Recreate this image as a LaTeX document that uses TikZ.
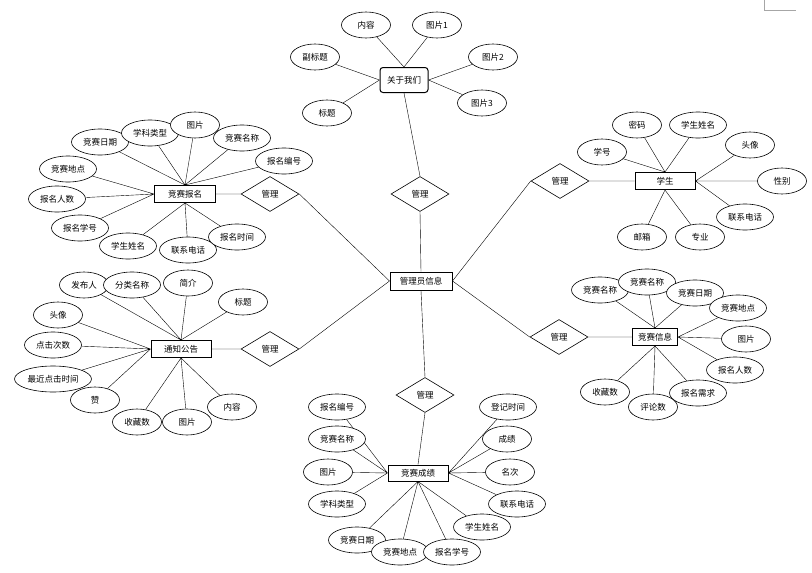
\documentclass[tikz,border=0pt]{standalone}
\usepackage{fontspec}
\newfontfamily\cjkfont{Noto Sans CJK SC}
\usepackage{tikz}
\usetikzlibrary{
  backgrounds,
  shapes.geometric
}
\tikzset{
  attr/.style={ellipse,draw,fill=white,minimum width=49pt,minimum height=26pt,inner sep=0pt},
  wattr/.style={attr,minimum width=57pt},
  ent/.style={rectangle,draw,fill=white,line width=1pt,minimum width=60pt,minimum height=17pt,inner sep=0pt},
  rel/.style={diamond,draw,fill=white,minimum width=58pt,minimum height=35pt,inner sep=0pt}
}

\begin{document}
\begin{tikzpicture}[x=1pt,y=-1pt,line width=0.6pt,font=\cjkfont\fontsize{8.5}{10}\selectfont]
	\useasboundingbox (0,0) rectangle (812,573);
	% page corner
	\draw[gray!70] (764,0) -- (764,10) -- (796,10);
	% centre
	\node[ent,minimum width=62pt,minimum height=18pt] (admin) at (421,281) {管理员信息};
	\node[rel] (rAbout) at (420,194) {管理};
	\node[rel] (rApply) at (270,194) {管理};
	\node[rel] (rNotice) at (270,349) {管理};
	\node[rel] (rStudent) at (560,181) {管理};
	\node[rel] (rContest) at (559,337) {管理};
	\node[rel] (rScore) at (425,395) {管理};
	% about us
	\node[ent,rounded corners=3pt,minimum width=48pt,minimum height=25pt] (about) at (404,80) {关于我们};
	\node[attr] (ab1) at (366,25) {内容};
	\node[attr] (ab2) at (437,25) {图片1};
	\node[attr] (ab3) at (315,57) {副标题};
	\node[attr] (ab4) at (493,57) {图片2};
	\node[attr] (ab5) at (482,103) {图片3};
	\node[attr] (ab6) at (327,113) {标题};
	% contest sign-up
	\node[ent,minimum width=61pt] (apply) at (185,194) {竞赛报名};
	\node[wattr] (ap1) at (100,142) {竞赛日期};
	\node[wattr] (ap2) at (150,133) {学科类型};
	\node[attr] (ap3) at (195,125) {图片};
	\node[wattr] (ap4) at (242,138) {竞赛名称};
	\node[wattr] (ap5) at (284,161) {报名编号};
	\node[wattr] (ap6) at (68,169) {竞赛地点};
	\node[wattr] (ap7) at (57,199) {报名人数};
	\node[wattr] (ap8) at (80,228) {报名学号};
	\node[wattr] (ap9) at (128,246) {学生姓名};
	\node[wattr] (ap10) at (188,250) {联系电话};
	\node[wattr] (ap11) at (237,237) {报名时间};
	% student
	\node[ent] (student) at (665,181) {学生};
	\node[attr] (st1) at (602,152) {学号};
	\node[attr] (st2) at (637,125) {密码};
	\node[wattr] (st3) at (698,125) {学生姓名};
	\node[attr] (st4) at (750,145) {头像};
	\node[attr] (st5) at (782,181) {性别};
	\node[wattr] (st6) at (745,217) {联系电话};
	\node[attr] (st7) at (700,237) {专业};
	\node[attr] (st8) at (642,237) {邮箱};
	% notice
	\node[ent] (notice) at (181,349) {通知公告};
	\node[attr] (no1) at (84,285) {发布人};
	\node[wattr] (no2) at (132,285) {分类名称};
	\node[attr] (no3) at (188,283) {简介};
	\node[attr] (no4) at (243,302) {标题};
	\node[attr] (no5) at (58,315) {头像};
	\node[wattr] (no6) at (53,345) {点击次数};
	\node[attr,minimum width=77pt] (no7) at (53,379) {最近点击时间};
	\node[attr] (no8) at (95,400) {赞};
	\node[attr] (no9) at (137,422) {收藏数};
	\node[attr] (no10) at (187,422) {图片};
	\node[attr] (no11) at (232,407) {内容};
	% contest info
	\node[ent,minimum width=45pt] (contest) at (655,337) {竞赛信息};
	\node[wattr] (co1) at (600,290) {竞赛名称};
	\node[wattr] (co2) at (647,282) {竞赛名称};
	\node[wattr] (co3) at (695,293) {竞赛日期};
	\node[wattr] (co4) at (738,308) {竞赛地点};
	\node[attr] (co5) at (746,339) {图片};
	\node[wattr] (co6) at (735,370) {报名人数};
	\node[wattr] (co7) at (698,393) {报名需求};
	\node[attr] (co8) at (653,407) {评论数};
	\node[attr] (co9) at (605,392) {收藏数};
	% contest score
	\node[ent,minimum height=16pt] (score) at (418,473) {竞赛成绩};
	\node[wattr] (sc1) at (337,407) {报名编号};
	\node[wattr] (sc2) at (337,439) {竞赛名称};
	\node[attr] (sc3) at (328,472) {图片};
	\node[wattr] (sc4) at (337,504) {学科类型};
	\node[wattr] (sc5) at (357,540) {竞赛日期};
	\node[wattr] (sc6) at (400,552) {竞赛地点};
	\node[wattr] (sc7) at (452,552) {报名学号};
	\node[wattr] (sc8) at (482,527) {学生姓名};
	\node[wattr] (sc9) at (517,504) {联系电话};
	\node[attr] (sc10) at (510,472) {名次};
	\node[attr] (sc11) at (507,439) {成绩};
	\node[wattr] (sc12) at (508,407) {登记时间};
	% connectors
	\begin{scope}[on background layer]
		\draw (admin.north) -- (rAbout.south)
			(admin.west) -- (rApply.east)
			(admin.west) -- (rNotice.east)
			(admin.east) -- (rStudent.west)
			(admin.east) -- (rContest.west)
			(admin.south) -- (rScore.north);
		\draw (about.south) -- (rAbout.north)
			(rApply.west) -- (apply.east)
			(rNotice.west) -- (notice.east)
			(rStudent.east) -- (student.west)
			(rContest.east) -- (contest.west)
			(rScore.south) -- (score.north);
		\draw (about.north) -- (ab1) (about.north) -- (ab2)
			(about.west) -- (ab3) (about.west) -- (ab6)
			(about.east) -- (ab4) (about.east) -- (ab5);
		\draw (apply.north) -- (ap1) (apply.north) -- (ap2) (apply.north) -- (ap3)
			(apply.north) -- (ap4) (apply.north) -- (ap5)
			(apply.west) -- (ap6) (apply.west) -- (ap7) (apply.west) -- (ap8)
			(apply.south) -- (ap9) (apply.south) -- (ap10) (apply.south) -- (ap11);
		\draw (student.north) -- (st1) (student.north) -- (st2) (student.north) -- (st3)
			(student.east) -- (st4) (student.east) -- (st5) (student.east) -- (st6)
			(student.south) -- (st7) (student.south) -- (st8);
		\draw (notice.north) -- (no1) (notice.north) -- (no2) (notice.north) -- (no3)
			(notice.north) -- (no4)
			(notice.west) -- (no5) (notice.west) -- (no6) (notice.west) -- (no7)
			(notice.west) -- (no8)
			(notice.south) -- (no9) (notice.south) -- (no10) (notice.south) -- (no11);
		\draw (contest.north) -- (co1) (contest.north) -- (co2) (contest.north) -- (co3)
			(contest.east) -- (co4) (contest.east) -- (co5) (contest.east) -- (co6)
			(contest.south) -- (co7) (contest.south) -- (co8) (contest.south) -- (co9);
		\draw (score.west) -- (sc1) (score.west) -- (sc2) (score.west) -- (sc3)
			(score.west) -- (sc4)
			(score.south) -- (sc5) (score.south) -- (sc6) (score.south) -- (sc7)
			(score.south) -- (sc8)
			(score.east) -- (sc9) (score.east) -- (sc10) (score.east) -- (sc11)
			(score.east) -- (sc12);
	\end{scope}
\end{tikzpicture}
\end{document}
